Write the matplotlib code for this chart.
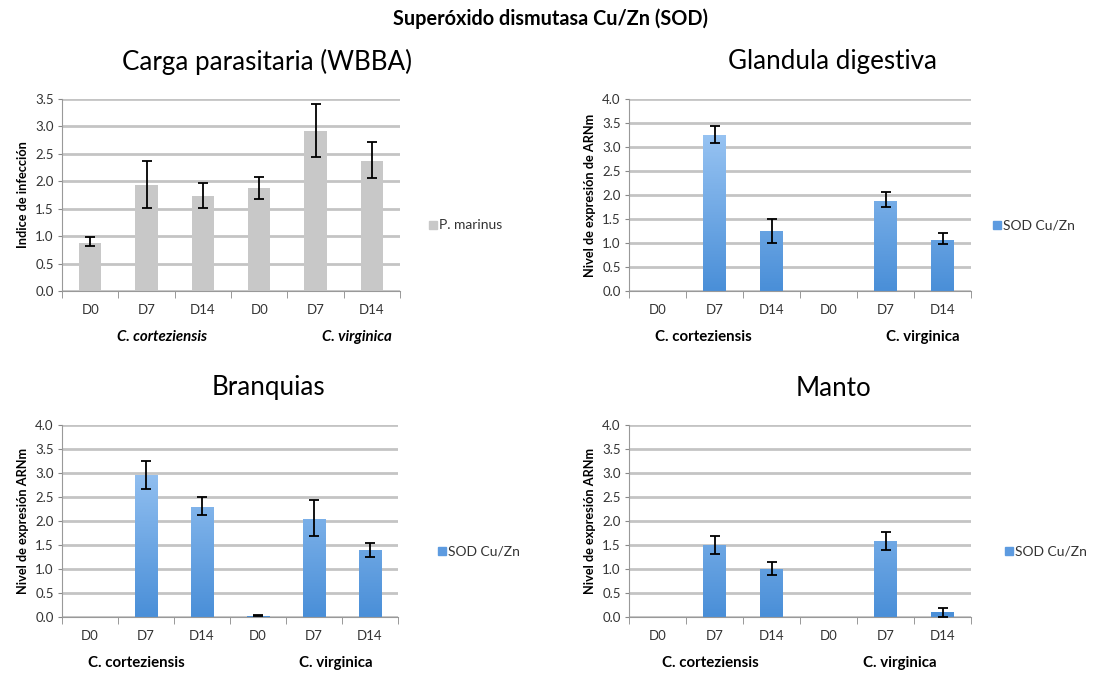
import matplotlib
matplotlib.use("Agg")
import matplotlib.pyplot as plt
import numpy as np

plt.rcParams['font.family'] = ['Lato', 'DejaVu Sans']

# ---------------------------------------------------------------#
# Data
# ---------------------------------------------------------------#
days = ["D0", "D7", "D14", "D0", "D7", "D14"]
groups = ["C. corteziensis", "C. virginica"]
nan = np.nan

# Carga parasitaria (WBBA)
wbba = [0.87, 1.93, 1.73, 1.88, 2.91, 2.37]
wbba_lo = [0.82, 1.52, 1.52, 1.67, 2.44, 2.06]
wbba_hi = [0.98, 2.37, 1.97, 2.08, 3.41, 2.72]

# Glandula digestiva
gland = [0.01, 3.25, 1.24, 0.01, 1.88, 1.06]
gland_lo = [nan, 3.09, 0.99, nan, 1.74, 0.97]
gland_hi = [nan, 3.44, 1.50, nan, 2.06, 1.20]

# Branquias
branq = [0.01, 2.95, 2.29, 0.03, 2.05, 1.39]
branq_lo = [nan, 2.66, 2.13, 0.02, 1.68, 1.26]
branq_hi = [nan, 3.25, 2.50, 0.04, 2.43, 1.54]

# Manto
manto = [0.01, 1.49, 1.01, 0.01, 1.58, 0.10]
manto_lo = [nan, 1.32, 0.88, nan, 1.40, 0.01]
manto_hi = [nan, 1.68, 1.15, nan, 1.77, 0.19]

W, H = 1101, 674
fig = plt.figure(figsize=(W / 100, H / 100), dpi=100)


def axrect(x0, y0, x1, y1):
    # pixel box -> figure fraction
    return [x0 / W, 1 - y1 / H, (x1 - x0) / W, (y1 - y0) / H]


blue_grad = matplotlib.colors.LinearSegmentedColormap.from_list(
    "sodblue", ["#4a8fd8", "#a9cff8"])


#--------------------------------------------#
# One panel
#--------------------------------------------#
def panel(rect, vals, lo, hi, ymax, ylabel, title, title_x, legend_label,
          legend_xy, grp_x, gray=False, italic=False):
    ax = fig.add_axes(axrect(*rect))
    x = np.arange(len(vals))
    vals = np.array(vals)
    yerr = [vals - np.array(lo), np.array(hi) - vals]

    ax.set_axisbelow(True)
    ax.yaxis.grid(True, color="#c4c4c4", lw=2)
    if gray:
        bars = ax.bar(x, vals, width=0.4, color="#c8c8c8", zorder=2)
    else:
        bars = ax.bar(x, vals, width=0.4, color="#6fa8e6", zorder=2)
        grad = np.linspace(0, 1, 100).reshape(-1, 1)
        for b in bars:
            bx = b.get_x()
            im = ax.imshow(grad, cmap=blue_grad, origin="lower", aspect="auto",
                           extent=[bx, bx + b.get_width(), 0, ymax], zorder=2.5)
            im.set_clip_path(b)
    ax.errorbar(x, vals, yerr=yerr, fmt="none", ecolor="black", elinewidth=1.3,
                capsize=3.5, capthick=1.3, zorder=3)

    ax.set_xlim(-0.5, len(vals) - 0.5)
    ax.set_ylim(0, ymax)
    yt = np.arange(0, ymax + 0.01, 0.5)
    ax.set_yticks(yt)
    ax.set_yticklabels(["%.1f" % v for v in yt], fontsize=9.5, color="#333333")
    ax.set_xticks(x)
    ax.set_xticklabels(days, fontsize=9.5, color="#333333")
    ax.tick_params(axis="x", length=0, pad=9)
    ax.set_xticks(np.arange(-0.5, len(vals), 1.0), minor=True)
    ax.tick_params(axis="x", which="minor", length=5, color="#888888")
    ax.tick_params(axis="y", length=3, color="#888888", pad=3)
    for s in ["top", "right"]:
        ax.spines[s].set_visible(False)
    ax.spines["left"].set_color("#999999")
    ax.spines["bottom"].set_color("#999999")
    ax.set_ylabel(ylabel, fontsize=9.2, fontweight="bold", labelpad=4)

    for g, gx in zip(groups, grp_x):
        ax.text(gx, -0.24, g, transform=ax.get_xaxis_transform(), ha="center",
                va="center", fontsize=10.8, fontweight="bold",
                style="italic" if italic else "normal")

    fig.text(title_x / W, 1 - (rect[1] - 37) / H, title, ha="center",
             va="center", fontsize=18.7)

    # legend: small square + text
    lx, ly = legend_xy
    fig.patches.append(matplotlib.patches.Rectangle(
        ((lx - 10) / W, 1 - (ly + 4) / H), 8 / W, 8 / H,
        transform=fig.transFigure, color="#c8c8c8" if gray else "#5d9be0",
        figure=fig))
    fig.text(lx / W, 1 - ly / H, legend_label, ha="left", va="center",
             fontsize=10, color="#333333")
    return ax


fig.text(0.5, 1 - 19 / H, "Superóxido dismutasa Cu/Zn (SOD)", ha="center",
         va="center", fontsize=14.3, fontweight="bold")

panel((62, 99, 400, 291), wbba, wbba_lo, wbba_hi, 3.5, "Indice de infección",
      "Carga parasitaria (WBBA)", 267, "P. marinus", (439, 225),
      [1.28, 4.74], gray=True, italic=True)
panel((629, 99, 971, 291), gland, gland_lo, gland_hi, 4.0,
      "Nivel de expresión de ARNm", "Glandula digestiva", 833, "SOD Cu/Zn",
      (1003, 225), [0.80, 4.66])
panel((62, 425, 398, 617), branq, branq_lo, branq_hi, 4.0,
      "Nivel de expresión ARNm", "Branquias", 268, "SOD Cu/Zn",
      (448, 551), [0.82, 4.39])
panel((629, 425, 971, 617), manto, manto_lo, manto_hi, 4.0,
      "Nivel de expresión ARNm", "Manto", 833, "SOD Cu/Zn",
      (1015, 551), [0.92, 4.25])

fig.savefig("out.png", dpi=100, facecolor="white")
